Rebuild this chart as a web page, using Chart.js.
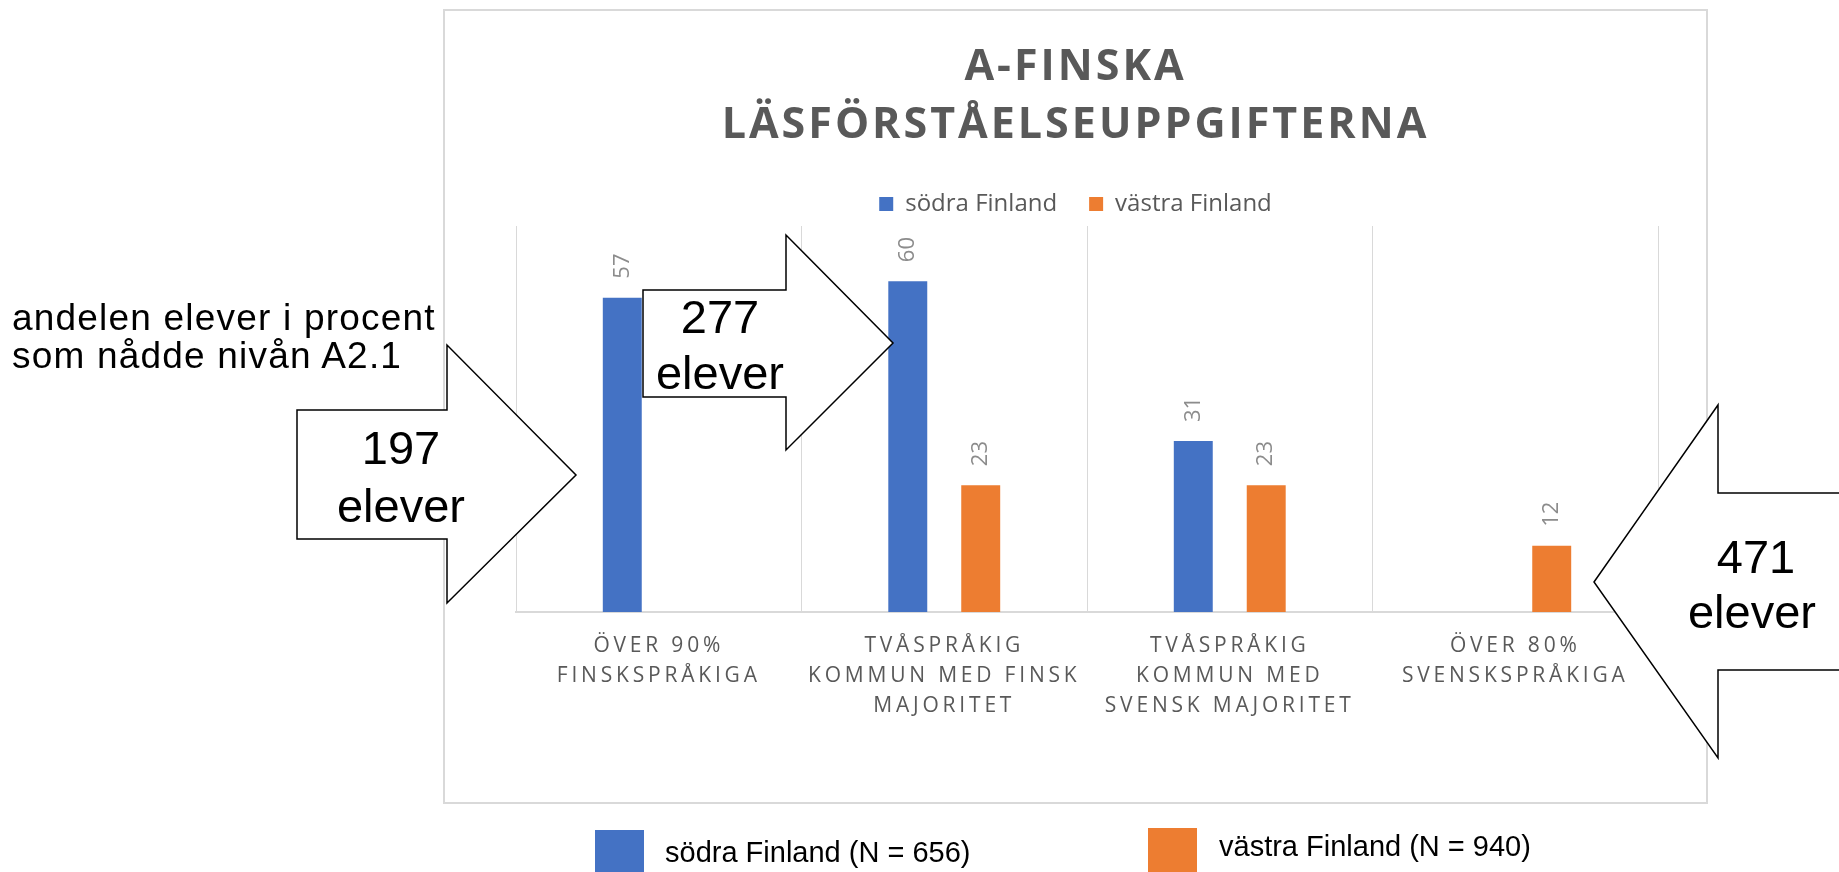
<!DOCTYPE html>
<html lang="sv">
<head>
<meta charset="utf-8">
<title>A-finska läsförståelseuppgifterna</title>
<script src="https://cdn.jsdelivr.net/npm/chart.js@4.4.1/dist/chart.umd.min.js"></script>
<style>
  html, body { margin: 0; padding: 0; background: #fff; }
  body { width: 1839px; height: 872px; position: relative; overflow: hidden; }
  #box {
    position: absolute; left: 443px; top: 9px; width: 1265px; height: 795px;
    border: 2px solid #d9d9d9; box-sizing: border-box; background: #fff;
  }
  #overlay { position: absolute; left: 0; top: 0; pointer-events: none; }
  #overlay text { font-family: "Liberation Sans", Arial, sans-serif; fill: #000; }
</style>
</head>
<body>
<div id="box"><canvas id="myChart"></canvas></div>

<svg id="overlay" width="1839" height="872">
  <text x="12" y="330" font-size="37" letter-spacing="1.2">andelen elever i procent</text>
  <text x="12" y="368" font-size="37" letter-spacing="1.2">som nådde nivån A2.1</text>

  <polygon points="297,410 447,410 447,345 576,475 447,603 447,539 297,539"
           fill="#fff" stroke="#000" stroke-width="1.5"/>
  <text x="401" y="464" font-size="47" text-anchor="middle">197</text>
  <text x="401" y="522" font-size="47" text-anchor="middle">elever</text>

  <polygon points="643,290 786,290 786,235 893,343 786,450 786,397 643,397"
           fill="#fff" stroke="#000" stroke-width="1.5"/>
  <text x="720" y="333" font-size="47" text-anchor="middle">277</text>
  <text x="720" y="389" font-size="47" text-anchor="middle">elever</text>

  <polygon points="1594,582 1718,405 1718,493 1850,493 1850,670 1718,670 1718,758"
           fill="#fff" stroke="#000" stroke-width="1.5"/>
  <text x="1756" y="573" font-size="47" text-anchor="middle">471</text>
  <text x="1752" y="628" font-size="47" text-anchor="middle">elever</text>

  <rect x="595" y="830" width="49" height="50" fill="#4472c4"/>
  <text x="665" y="862" font-size="29">södra Finland (N = 656)</text>
  <rect x="1148" y="828" width="49" height="50" fill="#ed7d31"/>
  <text x="1219" y="856" font-size="29">västra Finland (N = 940)</text>
</svg>

<script>
// data
var categories = [
    ['ÖVER 90%', 'FINSKSPRÅKIGA'],
    ['TVÅSPRÅKIG', 'KOMMUN MED FINSK', 'MAJORITET'],
    ['TVÅSPRÅKIG', 'KOMMUN MED', 'SVENSK MAJORITET'],
    ['ÖVER 80%', 'SVENSKSPRÅKIGA']
];
var seriesNames = ['södra Finland', 'västra Finland'];
var sodraFinland = [57, 60, 31, null];
var vastraFinland = [null, 23, 23, 12];
var titleLines = ['A-FINSKA', 'LÄSFÖRSTÅELSEUPPGIFTERNA'];
var yMax = 70;

var BLUE = '#4472c4', ORANGE = '#ed7d31';

// category axis with letter-spaced labels (like the Office chart)
class SpacedCategoryScale extends Chart.CategoryScale {
    drawLabels(chartArea) {
        var ctx = this.ctx;
        ctx.save();
        ctx.letterSpacing = '3.8px';
        super.drawLabels(chartArea);
        ctx.restore();
    }
}
SpacedCategoryScale.id = 'spacedCategory';
SpacedCategoryScale.defaults = Chart.CategoryScale.defaults;
Chart.register(SpacedCategoryScale);

// spaced title
var titleSpacing = {
    id: 'titleSpacing',
    beforeDraw: function(chart) {
        var t = chart.titleBlock;
        if (t && !t._spaced) {
            var orig = t.draw.bind(t);
            t.draw = function() {
                chart.ctx.save();
                chart.ctx.letterSpacing = '3px';
                orig();
                chart.ctx.restore();
            };
            t._spaced = true;
        }
    }
};

// rotated value labels above the bars
var valueLabels = {
    id: 'valueLabels',
    afterDatasetsDraw: function(chart) {
        var ctx = chart.ctx;
        chart.data.datasets.forEach(function(ds, i) {
            var meta = chart.getDatasetMeta(i);
            meta.data.forEach(function(bar, j) {
                var v = ds.data[j];
                if (v === null || v === undefined) return;
                ctx.save();
                ctx.translate(bar.x, bar.y - 19);
                ctx.rotate(-Math.PI / 2);
                ctx.font = '22px "Open Sans"';
                ctx.fillStyle = '#8c8c8c';
                ctx.textAlign = 'left';
                ctx.textBaseline = 'middle';
                ctx.fillText(String(v), 0, 0);
                ctx.restore();
            });
        });
    }
};

Chart.defaults.font.family = '"Open Sans", sans-serif';

new Chart(document.getElementById('myChart'), {
    type: 'bar',
    data: {
        labels: categories,
        datasets: [
            { label: seriesNames[0], data: sodraFinland, backgroundColor: BLUE, borderWidth: 0 },
            { label: seriesNames[1], data: vastraFinland, backgroundColor: ORANGE, borderWidth: 0 }
        ]
    },
    options: {
        responsive: true,
        maintainAspectRatio: false,
        animation: false,
        categoryPercentage: 0.511,
        barPercentage: 0.534,
        layout: { padding: { left: 48, right: 48, top: 0, bottom: 62 } },
        plugins: {
            title: {
                display: true,
                text: titleLines,
                color: '#595959',
                font: { size: 43, weight: 'bold', lineHeight: 58 / 43 },
                padding: { top: 28, bottom: 5 }
            },
            legend: {
                display: true,
                labels: {
                    color: '#595959',
                    font: { size: 24 },
                    boxWidth: 14,
                    boxHeight: 14,
                    padding: 32
                }
            },
            tooltip: { enabled: false }
        },
        scales: {
            x: {
                type: 'spacedCategory',
                grid: { display: true, offset: true, drawTicks: false, color: '#d9d9d9', lineWidth: 1 },
                border: { display: true, color: '#d9d9d9', width: 2 },
                ticks: {
                    color: '#595959',
                    font: { size: 21, lineHeight: 30 / 21 },
                    padding: 19,
                    autoSkip: false,
                    maxRotation: 0
                }
            },
            y: {
                min: 0,
                max: yMax,
                grid: { display: false },
                border: { display: false },
                ticks: { display: false },
                afterFit: function(scale) { scale.width = 23; }
            }
        }
    },
    plugins: [titleSpacing, valueLabels]
});
</script>
</body>
</html>
